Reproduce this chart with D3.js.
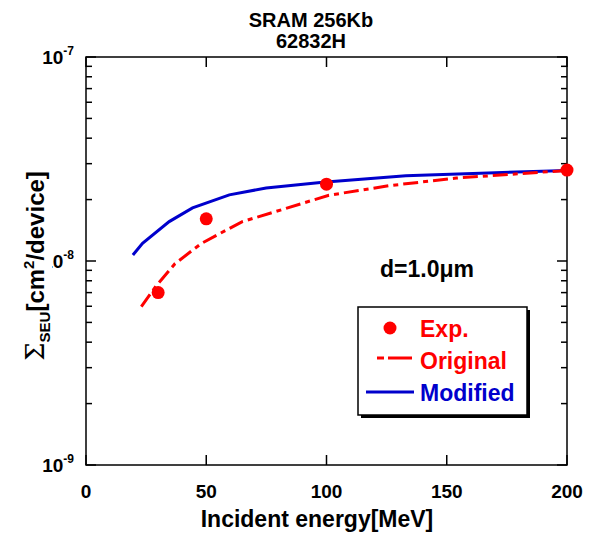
<!DOCTYPE html>
<html><head><meta charset="utf-8">
<script src="https://cdn.jsdelivr.net/npm/d3@7"></script>
<style>body{margin:0;background:#fff}svg{display:block}text{font-family:"Liberation Sans",Arial,sans-serif;font-weight:bold}</style>
</head><body><svg id="c" width="592" height="535"></svg>
<script>
const titleLines = ["SRAM 256Kb", "62832H"];
const xTicks = [0, 50, 100, 150, 200];
const yMajor = [1e-9, 1e-8, 1e-7];
const yExponents = ["-9", "-8", "-7"];
const energyExp = [30, 50, 100, 200];
const sigmaExp = [7.0e-9, 1.61e-8, 2.38e-8, 2.79e-8];
const energyOrig = [23, 29, 37, 48, 65, 79, 101, 126, 154, 200];
const sigmaOrig = [5.97e-9, 7.5e-9, 9.7e-9, 1.22e-8, 1.56e-8, 1.75e-8, 2.1e-8, 2.34e-8, 2.55e-8, 2.78e-8];
const energyMod = [19.5, 23.5, 34.6, 44.3, 59.6, 74.9, 98.5, 133, 200];
const sigmaMod = [1.07e-8, 1.22e-8, 1.56e-8, 1.82e-8, 2.11e-8, 2.28e-8, 2.43e-8, 2.62e-8, 2.78e-8];
const legendLabels = ["Exp.", "Original", "Modified"];

const svg = d3.select("#c");
const L = 86, R = 567, T = 57, B = 465;
const x = d3.scaleLinear().domain([0, 200]).range([L, R]);
const y = d3.scaleLog().domain([1e-9, 1e-7]).range([B, T]);
const RED = "#ff0000", BLUE = "#0000cc";

// title
titleLines.forEach((t, i) => svg.append("text").attr("x", 311).attr("y", 27 + i * 21)
  .attr("text-anchor", "middle").attr("font-size", 20).text(t));

// minor/major ticks
const minor = [];
[1e-9, 1e-8].forEach(d => { for (let k = 2; k <= 9; k++) minor.push(d * k); });
const g = svg.append("g").attr("stroke", "#000").attr("stroke-width", 1.5);
minor.forEach(v => {
  g.append("line").attr("x1", L).attr("x2", L + 6).attr("y1", y(v)).attr("y2", y(v));
  g.append("line").attr("x1", R).attr("x2", R - 6).attr("y1", y(v)).attr("y2", y(v));
});
yMajor.forEach(v => {
  g.append("line").attr("x1", L).attr("x2", L + 10).attr("y1", y(v)).attr("y2", y(v));
  g.append("line").attr("x1", R).attr("x2", R - 10).attr("y1", y(v)).attr("y2", y(v));
});
xTicks.forEach(v => {
  g.append("line").attr("x1", x(v)).attr("x2", x(v)).attr("y1", B).attr("y2", B - 10);
  g.append("line").attr("x1", x(v)).attr("x2", x(v)).attr("y1", T).attr("y2", T + 10);
});
svg.append("rect").attr("x", L).attr("y", T).attr("width", R - L).attr("height", B - T)
  .attr("fill", "none").attr("stroke", "#000").attr("stroke-width", 1.5);

// x tick labels
xTicks.forEach(v => svg.append("text").attr("x", x(v)).attr("y", 498).attr("text-anchor", "middle")
  .attr("font-size", 19).text(v));
svg.append("text").attr("x", 317).attr("y", 527).attr("text-anchor", "middle").attr("font-size", 23)
  .text("Incident energy[MeV]");

// y tick labels
yMajor.forEach((v, i) => {
  const t = svg.append("text").attr("x", 74).attr("y", y(v) + 7).attr("text-anchor", "end").attr("font-size", 19);
  t.append("tspan").text("10");
  t.append("tspan").attr("font-size", 12).attr("dy", -9).text(yExponents[i]);
});

// y axis title
const yt = svg.append("g").attr("transform", "translate(44,266) rotate(-90)");
const bgRect = yt.append("rect").attr("fill", "#fff");
const ytt = yt.append("text").attr("text-anchor", "middle").attr("font-size", 24);
ytt.append("tspan").attr("font-family", "DejaVu Serif").attr("font-weight", "normal").attr("font-size", 26).text("Σ");
ytt.append("tspan").attr("font-size", 15).attr("dy", 6).text("SEU");
ytt.append("tspan").attr("dy", -6).text("[cm");
ytt.append("tspan").attr("font-size", 15).attr("dy", -10).text("2");
ytt.append("tspan").attr("dy", 10).text("/device]");
const bb = ytt.node().getBBox();
bgRect.attr("x", bb.x).attr("y", bb.y).attr("width", bb.width).attr("height", 8 - bb.y);

// curves
const line = d3.line().x(d => x(d[0])).y(d => y(d[1]));
svg.append("path").datum(energyMod.map((e, i) => [e, sigmaMod[i]])).attr("d", line)
  .attr("fill", "none").attr("stroke", BLUE).attr("stroke-width", 3);
svg.append("path").datum(energyOrig.map((e, i) => [e, sigmaOrig[i]])).attr("d", line)
  .attr("fill", "none").attr("stroke", RED).attr("stroke-width", 3).attr("stroke-dasharray", "15,5,5,5");
svg.append("g").selectAll("circle").data(energyExp.map((e, i) => [e, sigmaExp[i]])).join("circle")
  .attr("cx", d => x(d[0])).attr("cy", d => y(d[1])).attr("r", 6.5).attr("fill", RED);

// annotation
svg.append("text").attr("x", 380).attr("y", 277).attr("font-size", 23).text("d=1.0μm");

// legend
svg.append("rect").attr("x", 361).attr("y", 310).attr("width", 169).attr("height", 108).attr("fill", "#000");
svg.append("rect").attr("x", 358).attr("y", 307).attr("width", 169).attr("height", 108)
  .attr("fill", "#fff").attr("stroke", "#000").attr("stroke-width", 1.5);
svg.append("circle").attr("cx", 390).attr("cy", 328).attr("r", 6.5).attr("fill", RED);
svg.append("line").attr("x1", 377).attr("x2", 412).attr("y1", 358).attr("y2", 358)
  .attr("stroke", RED).attr("stroke-width", 3).attr("stroke-dasharray", "7,4,30");
svg.append("line").attr("x1", 366).attr("x2", 414).attr("y1", 392).attr("y2", 392)
  .attr("stroke", BLUE).attr("stroke-width", 3);
const legColors = [RED, RED, BLUE];
legendLabels.forEach((t, i) => svg.append("text").attr("x", 420).attr("y", 337 + i * 32)
  .attr("font-size", 23).attr("fill", legColors[i]).text(t));
</script></body></html>
